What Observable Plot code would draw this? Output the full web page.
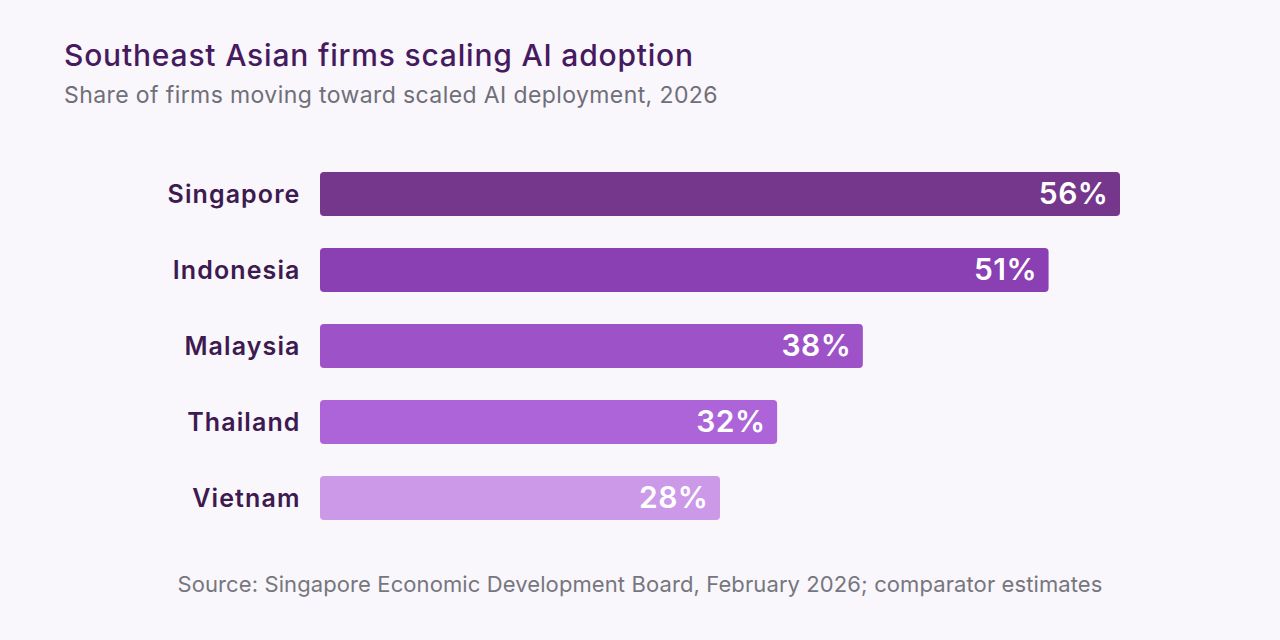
<!DOCTYPE html>
<html>
<head>
<meta charset="utf-8">
<script src="https://cdn.jsdelivr.net/npm/d3@7"></script>
<script src="https://cdn.jsdelivr.net/npm/@observablehq/plot@0.6"></script>
<style>
  html, body { margin: 0; padding: 0; background: #f9f6fc; }
  body { width: 1280px; height: 640px; position: relative; overflow: hidden; font-family: Inter, "Noto Sans", sans-serif; }
  #title { position: absolute; left: 64px; top: 37px; font-size: 30px; font-weight: 500; color: #451a5e; line-height: 36px; letter-spacing: 0.8px; white-space: nowrap; }
  #subtitle { position: absolute; left: 64px; top: 81px; font-size: 23px; font-weight: 400; color: #6f6f78; line-height: 28px; letter-spacing: 0.4px; white-space: nowrap; }
  #chart { position: absolute; left: 0; top: 140px; }
  #caption { position: absolute; left: 0; width: 1280px; top: 571px; text-align: center; font-size: 22px; color: #76767e; line-height: 26px; letter-spacing: 0.1px; }
  #chart g[aria-label="y-axis tick label"] text { letter-spacing: 1.1px; }
  #chart g[aria-label="text"] text { letter-spacing: 0.5px; }
</style>
</head>
<body>
<div id="title">Southeast Asian firms scaling AI adoption</div>
<div id="subtitle">Share of firms moving toward scaled AI deployment, 2026</div>
<div id="chart"></div>
<div id="caption">Source: Singapore Economic Development Board, February 2026; comparator estimates</div>
<script>
const countries = ["Singapore", "Indonesia", "Malaysia", "Thailand", "Vietnam"];
const shares = [56, 51, 38, 32, 28];
const barColors = ["#74378c", "#8a3fb2", "#9d52c7", "#ac64d8", "#cc99e8"];

const data = countries.map((c, i) => ({country: c, share: shares[i], color: barColors[i]}));

const chart = Plot.plot({
  width: 1280,
  height: 412,
  marginLeft: 320,
  marginRight: 160,
  marginTop: 0,
  marginBottom: 0,
  style: {background: "transparent", fontFamily: "Inter, 'Noto Sans', sans-serif"},
  x: {domain: [0, 56], axis: null},
  y: {domain: countries, padding: 0.421},
  color: {type: "identity"},
  marks: [
    Plot.barX(data, {y: "country", x: "share", fill: "color", rx: 4}),
    Plot.text(data, {
      y: "country", x: "share", text: d => d.share + "%",
      textAnchor: "end", dx: -12, fill: "white",
      fontSize: 30, fontWeight: 600
    }),
    Plot.axisY({tickSize: 0, tickPadding: 20, fontSize: 25, fontWeight: 600, color: "#3d1a4f", label: null})
  ]
});
document.getElementById("chart").appendChild(chart);
</script>
</body>
</html>
